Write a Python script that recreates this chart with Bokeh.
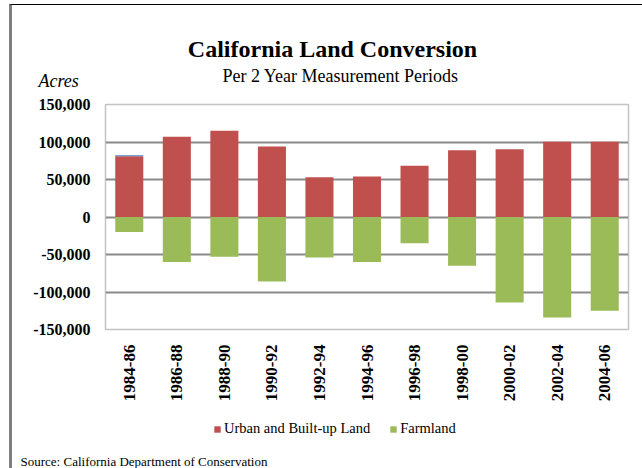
from bokeh.plotting import figure
from bokeh.layouts import column
from bokeh.models import (Range1d, FixedTicker, NumeralTickFormatter, Label,
                          Legend, LegendItem, ColumnDataSource)
from bokeh.embed import file_html
from bokeh.resources import INLINE
import math

periods = ["1984-86", "1986-88", "1988-90", "1990-92", "1992-94", "1994-96",
           "1996-98", "1998-00", "2000-02", "2002-04", "2004-06"]
urban = [81000, 107000, 115000, 94000, 53000, 54000, 68500, 89000, 90500, 100500, 100500]
farmland = [-20000, -60000, -53000, -86000, -54000, -60000, -35000, -65000, -114000, -134000, -125000]
other = [1200, 0, 0, 0, 0, 0, 0, 0, 0, 0, 0]
y_ticks = [-150000, -100000, -50000, 0, 50000, 100000, 150000]
series_names = ["Urban and Built-up Land", "Farmland"]

SERIF = "Liberation Serif"
RED = "#C0504D"
GREEN = "#9BBB59"
BLUE = "#4F81BD"

src = ColumnDataSource(dict(
    period=periods, urban=urban, farm=farmland, zero=[0] * len(periods),
    other_top=[u + o for u, o in zip(urban, other)],
))

p = figure(x_range=periods, y_range=Range1d(-150000, 150000),
           width=630, height=400, output_backend="svg", toolbar_location=None,
           min_border_left=93, min_border_right=14, min_border_top=99, min_border_bottom=76)

p.vbar(x="period", bottom="zero", top="urban", width=0.59, source=src,
       fill_color=RED, line_color=None)
p.vbar(x="period", bottom="urban", top="other_top", width=0.59, source=src,
       fill_color=BLUE, line_color=None)
p.vbar(x="period", bottom="farm", top="zero", width=0.59, source=src,
       fill_color=GREEN, line_color=None)

p.outline_line_color = "#c4c4c4"
p.outline_line_width = 1.5
p.xgrid.grid_line_color = None
p.ygrid.grid_line_color = "#8a8a8a"
p.ygrid.grid_line_width = 2
p.yaxis.ticker = FixedTicker(ticks=y_ticks)
p.yaxis.formatter = NumeralTickFormatter(format="0,0")
for ax in (p.xaxis[0], p.yaxis[0]):
    ax.axis_line_color = None
    ax.major_tick_line_color = None
    ax.minor_tick_line_color = None
    ax.major_tick_out = 0
    ax.major_tick_in = 0
    ax.major_label_text_font = SERIF
    ax.major_label_text_font_style = "bold"
    ax.major_label_text_color = "black"
p.yaxis.major_label_text_font_size = "16px"
p.xaxis.major_label_text_font_size = "17px"
p.yaxis.major_label_standoff = 15
p.xaxis.major_label_standoff = 15
p.xaxis.major_label_orientation = math.pi / 2

# texts above the plot area (each in its own panel, stacked upward)
p.add_layout(Label(x=-67, y=24, x_units="screen", y_units="screen",
                   text="Acres", text_font=SERIF, text_font_style="italic",
                   text_color="black", text_font_size="18px",
                   text_align="left", text_baseline="middle"), "above")
p.add_layout(Label(x=235, y=9, x_units="screen", y_units="screen",
                   text="Per 2 Year Measurement Periods", text_font=SERIF,
                   text_color="black", text_font_size="18px",
                   text_align="center", text_baseline="middle"), "above")
p.add_layout(Label(x=227, y=16, x_units="screen", y_units="screen",
                   text="California Land Conversion", text_font=SERIF,
                   text_font_style="bold", text_color="black", text_font_size="24px",
                   text_align="center", text_baseline="middle"), "above")

# legend + source strip below the chart (frame aligned with the main chart's frame)
p2 = figure(width=630, height=63, x_range=Range1d(0, 1), y_range=Range1d(0, 1),
            output_backend="svg", toolbar_location=None,
            x_axis_location=None, y_axis_location=None,
            min_border_left=0, min_border_right=0, min_border_top=0, min_border_bottom=0)
p2.grid.visible = False
p2.outline_line_color = None
# swatch carriers for the legend (placed outside the visible range)
sw_urban = p2.vbar(x=[-5], bottom=[-5], top=[-4], width=0.5, fill_color=RED, line_color=None)
sw_farm = p2.vbar(x=[-5], bottom=[-5], top=[-4], width=0.5, fill_color=GREEN, line_color=None)
legend = Legend(items=[LegendItem(label=series_names[0], renderers=[sw_urban]),
                       LegendItem(label=series_names[1], renderers=[sw_farm])],
                location=(108, 31), orientation="horizontal",
                label_text_font=SERIF, label_text_font_size="14.5px",
                label_text_color="black",
                glyph_width=8, glyph_height=8, spacing=19, padding=0, margin=0,
                label_standoff=3, label_height=14, border_line_color=None,
                background_fill_alpha=0)
p2.add_layout(legend, "center")
p2.add_layout(Label(x=-85, y=-41, x_units="screen", y_units="screen",
                    text="Source: California Department of Conservation", text_font=SERIF,
                    text_color="black", text_font_size="13px",
                    text_align="left", text_baseline="middle"), "above")

layout = column(p, p2, spacing=0,
                styles={"border-left": "3px solid #7f7f7f", "border-top": "1px solid #000000",
                        "margin-left": "9px", "margin-top": "4px"})

open("out.html", "w").write(file_html(layout, INLINE))
